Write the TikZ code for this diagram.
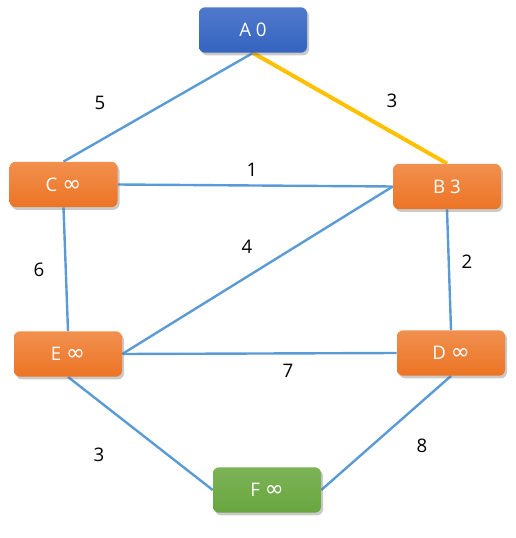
\documentclass[tikz,border=0pt]{standalone}
\usepackage{fontspec}
\setmainfont{Open Sans}
\newfontfamily\symf{DejaVu Sans}
\usetikzlibrary{shadows,backgrounds}
\definecolor{edgeblue}{HTML}{5B9BD5}
\definecolor{gold}{HTML}{FFC000}
\definecolor{btop}{HTML}{5079CC}
\definecolor{bbot}{HTML}{3464BF}
\definecolor{otop}{HTML}{F1904F}
\definecolor{obot}{HTML}{EC7424}
\definecolor{gtop}{HTML}{7CB356}
\definecolor{gbot}{HTML}{68A63F}
\newcommand{\inft}{{\symf\fontsize{17}{17}\selectfont ∞}}
\tikzset{
  box/.style={rounded corners=4.5pt, minimum width=81pt, minimum height=34pt,
    inner sep=0pt, text=white, font=\fontsize{14}{16}\selectfont,
    drop shadow={shadow xshift=1.5pt, shadow yshift=-2pt, opacity=0.35, fill=black!60}},
  bluebox/.style={box, top color=btop, bottom color=bbot},
  orangebox/.style={box, top color=otop, bottom color=obot},
  greenbox/.style={box, top color=gtop, bottom color=gbot},
  edge/.style={draw=edgeblue, line width=1.8pt},
  path/.style={draw=gold, line width=3pt},
  wlabel/.style={font=\fontsize{14}{16}\selectfont, text=black, inner sep=1pt}
}
\begin{document}
\begin{tikzpicture}[x=0.75pt, y=-0.75pt]
\useasboundingbox (0,0) rectangle (515,538);
\node[bluebox] (A) at (253,30) {A 0};
\node[orangebox] (C) at (63.5,184.5) {C \inft};
\node[orangebox] (B) at (447,186.5) {B 3};
\node[orangebox] (E) at (68,354) {E \inft};
\node[orangebox] (D) at (451,353) {D \inft};
\node[greenbox] (F) at (267,490) {F \inft};
\begin{scope}[on background layer]
\draw[edge] (A.south) -- (C.north);
\draw[path] (A.south) -- (B.north);
\draw[edge] (C.east) -- (B.west);
\draw[edge] (B.west) -- (E.east);
\draw[edge] (E.east) -- (D.west);
\draw[edge] (C.south) -- (E.north);
\draw[edge] (B.south) -- (D.north);
\draw[edge] (E.south) -- (F.west);
\draw[edge] (D.south) -- (F.east);
\end{scope}
\node[wlabel] (l5) at (100,103) {5};
\node[wlabel] (l3a) at (392,101) {3};
\node[wlabel] (l1) at (252,170) {1};
\node[wlabel] (l6) at (39,270) {6};
\node[wlabel] (l2) at (467,262) {2};
\node[wlabel] (l4) at (247,247) {4};
\node[wlabel] (l7) at (288,371) {7};
\node[wlabel] (l3b) at (99,455) {3};
\node[wlabel] (l8) at (422,446) {8};
\end{tikzpicture}
\end{document}
